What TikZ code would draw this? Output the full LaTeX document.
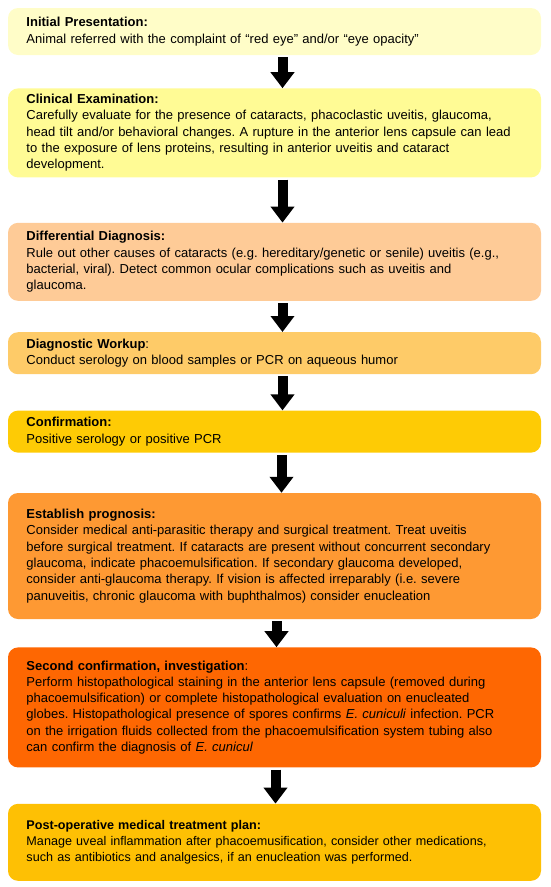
\documentclass[tikz,border=0pt]{standalone}
\usepackage{fontspec}
\setmainfont{Liberation Sans}
\usetikzlibrary{arrows.meta,positioning}
\frenchspacing

\definecolor{initfill}{HTML}{FFFDC8}
\definecolor{examfill}{HTML}{FFFB95}
\definecolor{difffill}{HTML}{FECB97}
\definecolor{workfill}{HTML}{FECB68}
\definecolor{conffill}{HTML}{FECB05}
\definecolor{progfill}{HTML}{FE9933}
\definecolor{secfill}{HTML}{FE6702}
\definecolor{postfill}{HTML}{FEC004}

\tikzset{
  stage/.style={rounded corners=10pt, minimum width=533pt, text width=496pt,
    inner xsep=18.5pt, inner ysep=0pt, align=left,
    font=\fontsize{13}{16.3}\selectfont},
  flow/.style={-{Triangle[width=23pt,length=16pt]}, line width=10pt, shorten <=2pt}
}

\begin{document}
\begin{tikzpicture}[x=1pt,y=-1pt]
          \useasboundingbox (0,0) rectangle (550,887);
          \node[stage, fill=initfill, minimum height=47pt] (init) at (274.5,31.5)
            {\textbf{Initial Presentation:}\\
             Animal referred with the complaint of “red eye” and/or “eye opacity”};
          \node[stage, fill=examfill, minimum height=89pt] (exam) [below=33pt of init]
            {\textbf{Clinical Examination:}\\
             Carefully evaluate for the presence of cataracts, phacoclastic uveitis, glaucoma,\\
             head tilt and/or behavioral changes. A rupture in the anterior lens capsule can lead\\
             to the exposure of lens proteins, resulting in anterior uveitis and cataract\\
             development.};
          \node[stage, fill=difffill, minimum height=78pt] (diff) [below=45pt of exam]
            {\textbf{Differential Diagnosis:}\\
             Rule out other causes of cataracts (e.g. hereditary/genetic or senile) uveitis (e.g.,\\
             bacterial, viral). Detect common ocular complications such as uveitis and\\
             glaucoma.};
          \node[stage, fill=workfill, minimum height=42pt] (work) [below=31pt of diff]
            {\textbf{Diagnostic Workup}:\\
             Conduct serology on blood samples or PCR on aqueous humor};
          \node[stage, fill=conffill, minimum height=42pt] (conf) [below=36pt of work]
            {\textbf{Confirmation:}\\
             Positive serology or positive PCR};
          \node[stage, fill=progfill, minimum height=126pt] (prog) [below=40pt of conf]
            {\textbf{Establish prognosis:}\\
             Consider medical anti-parasitic therapy and surgical treatment. Treat uveitis\\
             before surgical treatment. If cataracts are present without concurrent secondary\\
             glaucoma, indicate phacoemulsification. If secondary glaucoma developed,\\
             consider anti-glaucoma therapy. If vision is affected irreparably (i.e. severe\\
             panuveitis, chronic glaucoma with buphthalmos) consider enucleation};
          \node[stage, fill=secfill, minimum height=120pt] (second) [below=28pt of prog]
            {\textbf{Second confirmation, investigation}:\\
             Perform histopathological staining in the anterior lens capsule (removed during\\
             phacoemulsification) or complete histopathological evaluation on enucleated\\
             globes. Histopathological presence of spores confirms \textit{E. cuniculi} infection. PCR\\
             on the irrigation fluids collected from the phacoemulsification system tubing also\\
             can confirm the diagnosis of \textit{E. cunicul}};
          \node[stage, fill=postfill, minimum height=77pt, font=\fontsize{12.6}{16.3}\selectfont] (post) [below=36pt of second]
            {\textbf{Post-operative medical treatment plan:}\\
             Manage uveal inflammation after phacoemusification, consider other medications,\\
             such as antibiotics and analgesics, if an enucleation was performed.};

          \path[flow]
                    ([xshift=8pt]init.south)   edge ([xshift=8pt]exam.north)
                    ([xshift=8pt]exam.south)   edge ([xshift=8pt]diff.north)
                    ([xshift=8pt]diff.south)   edge ([xshift=8pt]work.north)
                    ([xshift=8pt]work.south)   edge ([xshift=8pt]conf.north)
                    ([xshift=7pt]conf.south)   edge ([xshift=7pt]prog.north)
                    ([xshift=2pt]prog.south)   edge ([xshift=2pt]second.north)
                    ([xshift=1pt]second.south) edge ([xshift=1pt]post.north)
            ;
        \end{tikzpicture}
\end{document}
